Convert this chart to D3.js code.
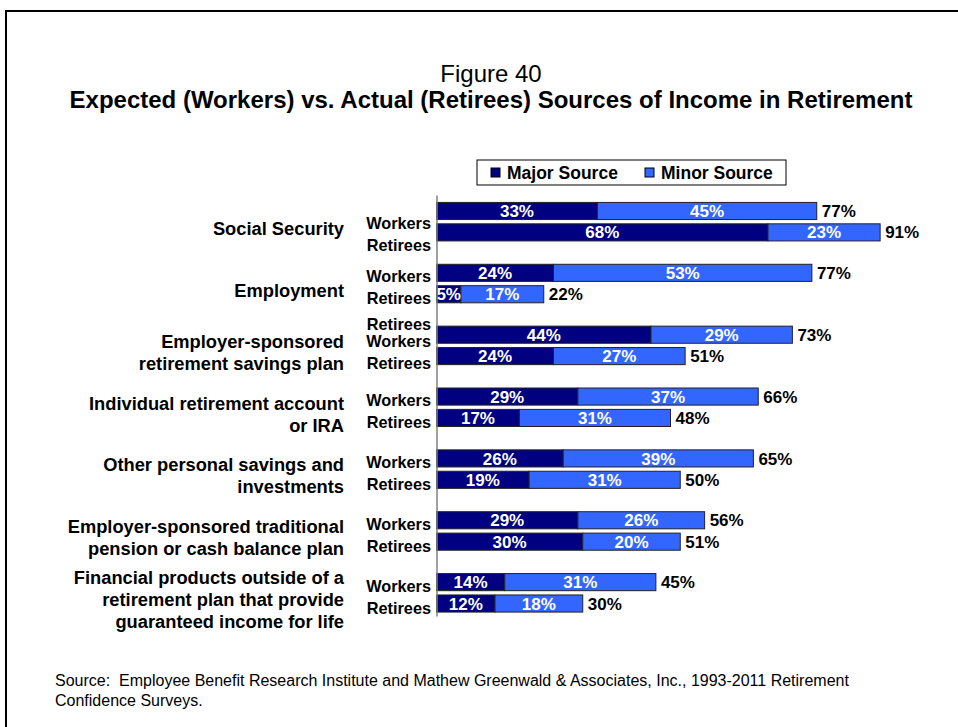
<!DOCTYPE html>
<html>
<head>
<meta charset="utf-8">
<script src="https://cdn.jsdelivr.net/npm/d3@7"></script>
<style>
  html, body { margin: 0; padding: 0; background: #fff; }
  svg { display: block; font-family: "Liberation Sans", Arial, sans-serif; }
  .src { white-space: pre; }
</style>
</head>
<body>
<svg id="chart" width="958" height="727"></svg>
<script>
// ---------- data ----------
const categories = [
  "Social Security",
  "Employment",
  "Employer-sponsored retirement savings plan",
  "Individual retirement account or IRA",
  "Other personal savings and investments",
  "Employer-sponsored traditional pension or cash balance plan",
  "Financial products outside of a retirement plan that provide guaranteed income for life"
];
const categoryLines = [
  ["Social Security"],
  ["Employment"],
  ["Employer-sponsored", "retirement savings plan"],
  ["Individual retirement account", "or IRA"],
  ["Other personal savings and", "investments"],
  ["Employer-sponsored traditional", "pension or cash balance plan"],
  ["Financial products outside of a", "retirement plan that provide", "guaranteed income for life"]
];
const groups = ["Workers", "Retirees"];
const seriesNames = ["Major Source", "Minor Source"];
const majorWorkers  = [33, 24, 44, 29, 26, 29, 14];
const minorWorkers  = [45, 53, 29, 37, 39, 26, 31];
const totalWorkers  = [77, 77, 73, 66, 65, 56, 45];
const majorRetirees = [68, 5, 24, 17, 19, 30, 12];
const minorRetirees = [23, 17, 27, 31, 31, 20, 18];
const totalRetirees = [91, 22, 51, 48, 50, 51, 30];

const figureLabel = "Figure 40";
const titleText = "Expected (Workers) vs. Actual (Retirees) Sources of Income in Retirement";
const sourceLines = [
  "Source:  Employee Benefit Research Institute and Mathew Greenwald & Associates, Inc., 1993-2011 Retirement",
  "Confidence Surveys."
];

// ---------- build table ----------
const rows = [];
categories.forEach((c, i) => {
  rows.push({ cat: c, group: "Workers", "Major Source": majorWorkers[i], "Minor Source": minorWorkers[i], total: totalWorkers[i] });
  rows.push({ cat: c, group: "Retirees", "Major Source": majorRetirees[i], "Minor Source": minorRetirees[i], total: totalRetirees[i] });
});
const stacked = d3.stack().keys(seriesNames)(rows);

const colors = d3.scaleOrdinal().domain(seriesNames).range(["#000080", "#3366FF"]);

const svg = d3.select("#chart");

// frame
svg.append("path")
  .attr("d", "M6,740 L6,11 L970,11")
  .attr("fill", "none").attr("stroke", "#000").attr("stroke-width", 2);

// titles
svg.append("text").attr("x", 491).attr("y", 82).attr("text-anchor", "middle")
  .attr("font-size", 24).attr("fill", "#000").text(figureLabel);
svg.append("text").attr("x", 491).attr("y", 108).attr("text-anchor", "middle")
  .attr("font-size", 24).attr("font-weight", "bold").attr("fill", "#000").text(titleText);

// scales
const x = d3.scaleLinear().domain([0, 100]).range([436.5, 924]);
const y = d3.scaleBand().domain(categories).range([191, 624]).paddingInner(0).paddingOuter(0);
const yInner = d3.scaleBand().domain(groups).range([-19.5, 19]).paddingInner(0.2).paddingOuter(0);

const gCenter = c => y(c) + y.bandwidth() / 2;
const barY = d => gCenter(d.data.cat) + yInner(d.data.group);

// clip for inside labels
svg.append("defs").append("clipPath").attr("id", "plotclip")
  .append("rect").attr("x", x(0)).attr("y", 150).attr("width", 520).attr("height", 500);

// bars
const layer = svg.append("g").selectAll("g").data(stacked).join("g")
  .attr("fill", d => colors(d.key));
layer.selectAll("rect").data(d => d).join("rect")
  .attr("x", d => x(d[0]))
  .attr("y", d => barY(d))
  .attr("width", d => x(d[1]) - x(d[0]))
  .attr("height", yInner.bandwidth())
  .attr("stroke", "#222").attr("stroke-width", 1);

// inside labels
const inside = svg.append("g").attr("clip-path", "url(#plotclip)");
stacked.forEach(s => {
  inside.selectAll(null).data(s).join("text")
    .attr("x", d => (x(d[0]) + x(d[1])) / 2)
    .attr("y", d => barY(d) + yInner.bandwidth() / 2)
    .attr("dy", "0.36em")
    .attr("text-anchor", "middle")
    .attr("font-size", 17).attr("font-weight", "bold").attr("fill", "#fff")
    .text(d => (d[1] - d[0]) + "%");
});

// total labels
svg.append("g").selectAll("text").data(rows).join("text")
  .attr("x", d => x(d["Major Source"] + d["Minor Source"]) + 5)
  .attr("y", d => gCenter(d.cat) + yInner(d.group) + yInner.bandwidth() / 2)
  .attr("dy", "0.36em")
  .attr("font-size", 17).attr("font-weight", "bold").attr("fill", "#000")
  .text(d => d.total + "%");

// axis line (category axis, no ticks)
const yAxis = d3.axisLeft(d3.scaleLinear().range([195, 616])).ticks(0).tickSizeOuter(0);
svg.append("g").attr("transform", `translate(${x(0)},0)`).call(yAxis)
  .select(".domain").attr("stroke", "#808080").attr("stroke-width", 1.5);

// series labels (Workers / Retirees)
const labelOffset = { Workers: -1.5, Retirees: 20.5 };
const labelShift = { 0: 9, 2: 2.5 };
const seriesLab = svg.append("g").attr("font-size", 16.3).attr("font-weight", "bold")
  .attr("text-anchor", "end").attr("fill", "#000");
categories.forEach((c, i) => {
  const shift = labelShift[i] || 0;
  groups.forEach(g => {
    seriesLab.append("text")
      .attr("x", 431)
      .attr("y", gCenter(c) + labelOffset[g] + shift)
      .text(g);
  });
  if (i === 2) {
    seriesLab.append("text")
      .attr("x", 431)
      .attr("y", gCenter(c) + labelOffset.Workers + shift - 17)
      .text("Retirees");
  }
});

// category labels
const catLab = svg.append("g").attr("font-size", 18.3).attr("font-weight", "bold")
  .attr("text-anchor", "end").attr("fill", "#000");
categories.forEach((c, i) => {
  const lines = categoryLines[i];
  const cy = gCenter(c) + 6.5;
  lines.forEach((ln, j) => {
    catLab.append("text").attr("x", 344)
      .attr("y", cy - (lines.length - 1) * 11 + j * 22 + 6.5)
      .text(ln);
  });
});

// legend
const lg = svg.append("g");
lg.append("rect").attr("x", 477).attr("y", 160).attr("width", 309).attr("height", 25)
  .attr("fill", "#fff").attr("stroke", "#000").attr("stroke-width", 1);
const legX = [491, 645];
seriesNames.forEach((s, i) => {
  lg.append("rect").attr("x", legX[i]).attr("y", 168).attr("width", 9).attr("height", 9)
    .attr("fill", colors(s)).attr("stroke", "#000").attr("stroke-width", 1);
  lg.append("text").attr("x", legX[i] + 16).attr("y", 179)
    .attr("font-size", 17.5).attr("font-weight", "bold").attr("fill", "#000").text(s);
});

// source
sourceLines.forEach((t, i) => {
  svg.append("text").attr("class", "src").attr("x", 55).attr("y", 686 + i * 20)
    .attr("font-size", 16).attr("fill", "#000").text(t);
});
</script>
</body>
</html>
